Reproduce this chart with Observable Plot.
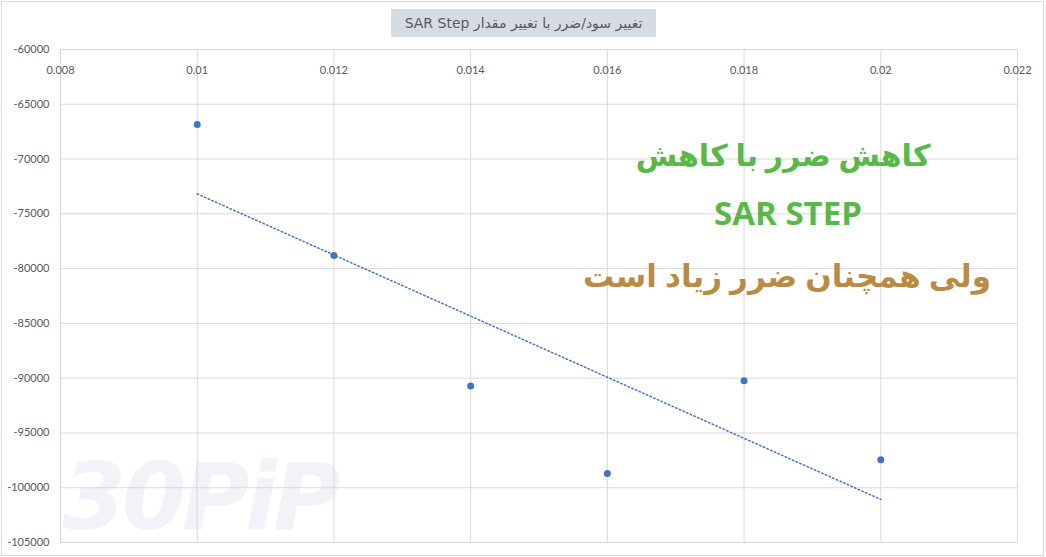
<!DOCTYPE html>
<html><head><meta charset="utf-8">
<script src="https://cdn.jsdelivr.net/npm/d3@7"></script>
<script src="https://cdn.jsdelivr.net/npm/@observablehq/plot@0.6"></script>
<style>
body{margin:0;background:#fff;}
#wrap{position:relative;width:1046px;height:557px;overflow:hidden;background:#fff;}
#chart{position:absolute;left:0;top:0;}
#border{position:absolute;left:1px;top:1px;width:1041px;height:553px;border:1px solid #d9d9d9;pointer-events:none;}
#title{position:absolute;left:391px;top:9px;width:265px;height:28px;background:#d6dce4;color:#595959;
 font-family:"DejaVu Sans",sans-serif;font-size:14px;line-height:28px;text-align:center;direction:rtl;white-space:nowrap;}
.note{position:absolute;left:0;width:1046px;text-align:center;font-weight:bold;white-space:nowrap;direction:rtl;
 font-family:"Open Sans","DejaVu Sans",sans-serif;}
.note span{position:absolute;transform:translateX(-50%);}
#wm{position:absolute;left:62px;top:448px;font-family:"DejaVu Sans",sans-serif;font-weight:bold;font-style:italic;
 font-size:92px;color:#f1f3f8;letter-spacing:-4px;line-height:100px;}
</style></head><body>
<div id="wrap">
 <div id="wm">30PiP</div>
 <div id="chart"></div>
 <div id="border"></div>
 <div id="title">تغییر سود/ضرر با تغییر مقدار SAR Step</div>
 <div class="note" style="top:134px;"><span style="left:783px;color:#58b947;font-size:30px;">کاهش ضرر با کاهش</span></div>
 <div class="note" style="top:190px;"><span style="left:788px;color:#58b947;font-size:33px;direction:ltr;">SAR STEP</span></div>
 <div class="note" style="top:254px;"><span style="left:787px;color:#b98c42;font-size:31px;">ولی همچنان ضرر زیاد است</span></div>
</div>
<script>
const sarStep = [0.01, 0.012, 0.014, 0.016, 0.018, 0.02];
const profit = [-66850, -78800, -90720, -98710, -90230, -97440];
const xTicks = [0.008, 0.01, 0.012, 0.014, 0.016, 0.018, 0.02, 0.022];
const yTicks = [-105000, -100000, -95000, -90000, -85000, -80000, -75000, -70000, -65000, -60000];

const data = sarStep.map((x, i) => ({x, y: profit[i]}));

const chart = Plot.plot({
  width: 1046, height: 557,
  marginLeft: 60, marginRight: 29, marginTop: 49, marginBottom: 15,
  x: {domain: [0.008, 0.022], axis: null},
  y: {domain: [-105000, -60000], axis: null},
  style: {fontFamily: "Lato, sans-serif", fontSize: "11px", color: "#595959", background: "transparent"},
  marks: [
    Plot.gridX(xTicks, {stroke: "#d9d9d9", strokeOpacity: 1}),
    Plot.gridY(yTicks, {stroke: "#d9d9d9", strokeOpacity: 1}),
    Plot.axisY(yTicks, {tickSize: 0, tickPadding: 11, tickFormat: d => String(d), fill: "#595959", label: null}),
    Plot.text(xTicks, {x: d => d, frameAnchor: "top", dy: 17, text: d => String(d), fill: "#595959"}),
    Plot.linearRegressionY(data, {x: "x", y: "y", ci: 0, stroke: "#4472c4", strokeWidth: 1.5, strokeDasharray: "1.5,2.5"}),
    Plot.dot(data, {x: "x", y: "y", r: 3.5, fill: "#4472c4"})
  ]
});
document.getElementById("chart").appendChild(chart);
</script>
</body></html>
